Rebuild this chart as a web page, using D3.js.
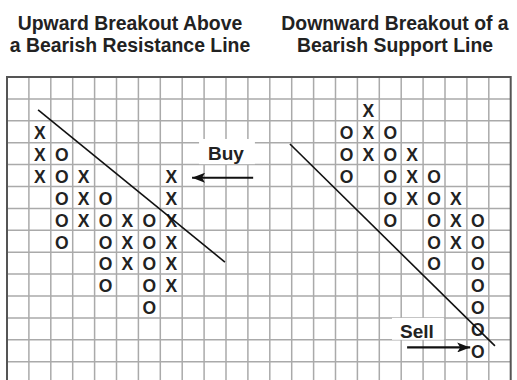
<!DOCTYPE html>
<html lang="en">
<head>
    <meta charset="UTF-8">
    <title>Point and Figure Breakouts</title>
    <style>
        body {
            margin: 0;
            background: #fff;
            font-family: "Liberation Sans", Arial, sans-serif;
        }
    </style>
</head>
<body>

<div id="chart"></div>

<script src="https://d3js.org/d3.v7.min.js"></script>
<script>
    // Chart titles (two lines each)
    const leftTitle = ["Upward Breakout Above", "a Bearish Resistance Line"];
    const rightTitle = ["Downward Breakout of a", "Bearish Support Line"];

    // Point & figure columns: grid column, mark, first box row, last box row
    const columnIndex = [1, 2, 3, 4, 5, 6, 7, 15, 16, 17, 18, 19, 20, 21];
    const columnMark  = ["X", "O", "X", "O", "X", "O", "X", "O", "X", "O", "X", "O", "X", "O"];
    const columnTop   = [2, 3, 4, 5, 6, 6, 4, 2, 1, 2, 3, 4, 5, 6];
    const columnEnd   = [4, 7, 6, 9, 8, 10, 9, 4, 3, 6, 5, 8, 7, 12];

    // Trend lines in grid units [col, row]
    const resistanceLine = [[1.42, 1.5], [9.95, 8.45]];
    const supportLine = [[12.92, 3.06], [22.28, 12.28]];

    // Signal labels
    const signalText = ["Buy", "Sell"];

    const width = 517;
    const height = 380;
    const nCols = 23;
    const nRows = 14;
    const cell = 21.9;

    const x = d3.scaleLinear().domain([0, nCols]).range([7, 7 + nCols * cell]);
    const y = d3.scaleLinear().domain([0, nRows]).range([77, 77 + nRows * cell]);

    const svg = d3.select("#chart")
        .append("svg")
        .attr("width", width)
        .attr("height", height);

    // grid
    const grid = svg.append("g").attr("stroke", "#aaa").attr("stroke-width", 1.5);
    grid.selectAll("line.v")
        .data(d3.range(1, nCols))
        .enter()
        .append("line")
        .attr("x1", d => x(d))
        .attr("x2", d => x(d))
        .attr("y1", y(0))
        .attr("y2", height);
    grid.selectAll("line.h")
        .data(d3.range(1, nRows))
        .enter()
        .append("line")
        .attr("x1", x(0))
        .attr("x2", x(nCols))
        .attr("y1", d => y(d))
        .attr("y2", d => y(d));

    // frame (left, top, right; bottom is cut off)
    svg.append("path")
        .attr("d", `M${x(0)},${height}V${y(0)}H${x(nCols)}V${height}`)
        .attr("fill", "none")
        .attr("stroke", "#555")
        .attr("stroke-width", 2);

    // titles
    const titles = svg.append("g")
        .attr("font-weight", "bold")
        .attr("font-size", 19.4)
        .attr("fill", "#222")
        .attr("text-anchor", "middle");
    [[leftTitle, 130], [rightTitle, 395]].forEach(([lines, cx]) => {
        titles.selectAll(null)
            .data(lines)
            .enter()
            .append("text")
            .attr("x", cx)
            .attr("y", (d, i) => 30 + i * 21.5)
            .text(d => d);
    });

    // X and O boxes
    const boxes = [];
    columnIndex.forEach((c, i) => {
        d3.range(columnTop[i], columnEnd[i] + 1).forEach(r => {
            boxes.push({ col: c, row: r, mark: columnMark[i] });
        });
    });

    svg.append("g")
        .selectAll("text")
        .data(boxes)
        .enter()
        .append("text")
        .attr("x", d => x(d.col + 0.5))
        .attr("y", d => y(d.row + 0.5) + 1)
        .attr("dy", "0.36em")
        .attr("text-anchor", "middle")
        .attr("font-weight", "bold")
        .attr("font-size", 17.5)
        .attr("fill", "#222")
        .text(d => d.mark);

    // trend lines
    const lineGen = d3.line().x(d => x(d[0])).y(d => y(d[1]));
    svg.append("g")
        .selectAll("path")
        .data([resistanceLine, supportLine])
        .enter()
        .append("path")
        .attr("d", lineGen)
        .attr("fill", "none")
        .attr("stroke", "#111")
        .attr("stroke-width", 1.6);

    // signal labels with white backgrounds
    const labelBoxes = [
        { text: signalText[0], x0: 8.77, x1: 11.32, y0: 2.83, y1: 3.98, tx: 10.0, ty: 3.78 },
        { text: signalText[1], x0: 17.58, x1: 19.95, y0: 11.0, y1: 12.0, tx: 18.72, ty: 11.9 }
    ];
    const lab = svg.append("g");
    lab.selectAll("rect")
        .data(labelBoxes)
        .enter()
        .append("rect")
        .attr("x", d => x(d.x0))
        .attr("y", d => y(d.y0))
        .attr("width", d => x(d.x1) - x(d.x0))
        .attr("height", d => y(d.y1) - y(d.y0))
        .attr("fill", "#fff");
    lab.selectAll("text")
        .data(labelBoxes)
        .enter()
        .append("text")
        .attr("x", d => x(d.tx))
        .attr("y", d => y(d.ty))
        .attr("text-anchor", "middle")
        .attr("font-weight", "bold")
        .attr("font-size", 19)
        .attr("fill", "#222")
        .text(d => d.text);

    // arrows
    svg.append("defs").append("marker")
        .attr("id", "arrowhead")
        .attr("viewBox", "0 -5 13 10")
        .attr("refX", 13)
        .attr("refY", 0)
        .attr("markerWidth", 13)
        .attr("markerHeight", 10)
        .attr("markerUnits", "userSpaceOnUse")
        .attr("orient", "auto")
        .append("path")
        .attr("d", "M0,-5L13,0L0,5L3,0Z")
        .attr("fill", "#111");

    const arrows = [
        [[11.24, 4.6], [8.45, 4.6]],
        [[18.27, 12.35], [21.15, 12.35]]
    ];
    svg.append("g")
        .selectAll("path")
        .data(arrows)
        .enter()
        .append("path")
        .attr("d", lineGen)
        .attr("stroke", "#111")
        .attr("stroke-width", 2.2)
        .attr("marker-end", "url(#arrowhead)");
</script>

</body>
</html>
